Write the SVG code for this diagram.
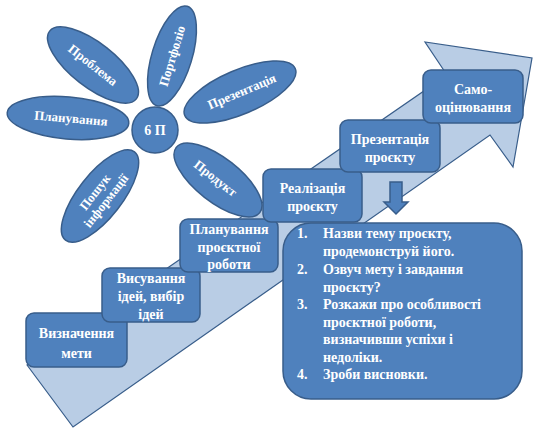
<svg xmlns="http://www.w3.org/2000/svg" width="541" height="437" viewBox="0 0 541 437">
<style>
.bg{fill:#ffffff}
.arrow{fill:#b9cde5;stroke:#385d8a;stroke-width:1.2}
.box{fill:#4f81bd;stroke:#385d8a;stroke-width:1.5}
.petal{fill:#4f81bd;stroke:#385d8a;stroke-width:1.5}
.t{font-family:"Liberation Serif","Times New Roman",serif;font-weight:bold;font-size:14px;fill:#ffffff;text-anchor:middle}
.pt{font-family:"Liberation Serif","Times New Roman",serif;font-weight:bold;font-size:13px;fill:#ffffff;text-anchor:middle}
.lt{font-family:"Liberation Serif","Times New Roman",serif;font-weight:bold;font-size:14px;fill:#ffffff}
</style>
<rect class="bg" width="541" height="437"/>
<g id="big-arrow">
<polygon class="arrow" points="27,365 447,75 425,42 532,58 513,167 490,135 73,427"/>
</g>
<g id="flower">
<g id="petal-problema" transform="translate(93,65) rotate(38)">
<ellipse class="petal" cx="0" cy="0" rx="55" ry="22"/>
<text class="pt" x="0" y="4.5">Проблема</text>
</g>
<g id="petal-portfolio" transform="translate(172,56) rotate(-73)">
<ellipse class="petal" cx="0" cy="0" rx="52" ry="20"/>
<text class="pt" x="0" y="4.5">Портфоліо</text>
</g>
<g id="petal-prezentatsiia" transform="translate(240,92) rotate(-23)">
<ellipse class="petal" cx="0" cy="0" rx="60" ry="22"/>
<text class="pt" x="2" y="4.5">Презентація</text>
</g>
<g id="petal-planuvannia" transform="translate(68,118) rotate(5)">
<ellipse class="petal" cx="0" cy="0" rx="61" ry="21"/>
<text class="pt" x="3" y="4.5">Планування</text>
</g>
<g id="petal-produkt" transform="translate(218,180) rotate(38)">
<ellipse class="petal" cx="0" cy="0" rx="53" ry="22"/>
<text class="pt" x="-3" y="4.5">Продукт</text>
</g>
<g id="petal-poshuk" transform="translate(100,196) rotate(-52)">
<ellipse class="petal" cx="0" cy="0" rx="56" ry="22"/>
<text class="pt" x="0" y="-2">Пошук</text>
<text class="pt" x="0" y="12">інформації</text>
</g>
<g id="center-6p">
<circle class="petal" cx="155" cy="130" r="23"/>
<text class="t" x="155" y="135">6 П</text>
</g>
</g>
<g id="step-1">
<rect class="box" x="26" y="313" width="101" height="54" rx="8"/>
<text class="t" x="76.5" y="338">Визначення</text>
<text class="t" x="76.5" y="358">мети</text>
</g>
<g id="step-2">
<rect class="box" x="102" y="268" width="98" height="54" rx="8"/>
<text class="t" x="151" y="283">Висування</text>
<text class="t" x="151" y="301">ідей, вибір</text>
<text class="t" x="151" y="319">ідей</text>
</g>
<g id="step-3">
<rect class="box" x="180" y="219" width="98" height="53" rx="8"/>
<text class="t" x="229" y="234">Планування</text>
<text class="t" x="229" y="252">проєктної</text>
<text class="t" x="229" y="269">роботи</text>
</g>
<g id="step-4">
<rect class="box" x="263" y="169" width="99" height="53" rx="8"/>
<text class="t" x="312.5" y="193">Реалізація</text>
<text class="t" x="312.5" y="211">проєкту</text>
</g>
<g id="step-5">
<rect class="box" x="340" y="120" width="100" height="52" rx="8"/>
<text class="t" x="390" y="144">Презентація</text>
<text class="t" x="390" y="162">проєкту</text>
</g>
<g id="step-6">
<rect class="box" x="423" y="70" width="100" height="53" rx="8"/>
<text class="t" x="473" y="94">Само-</text>
<text class="t" x="473" y="112">оцінювання</text>
</g>
<g id="connectors">
<polygon class="box" points="390,182 402,182 402,202 408,202 396,214 384,202 390,202"/>
</g>
<g id="questions">
<rect class="box" x="283" y="223" width="239" height="176" rx="28"/>
<text class="lt" x="297" y="238">1.</text>
<text class="lt" x="323" y="238">Назви тему проєкту,</text>
<text class="lt" x="323" y="256">продемонструй його.</text>
<text class="lt" x="297" y="274">2.</text>
<text class="lt" x="323" y="274">Озвуч мету і завдання</text>
<text class="lt" x="323" y="292">проєкту?</text>
<text class="lt" x="297" y="309">3.</text>
<text class="lt" x="323" y="309">Розкажи про особливості</text>
<text class="lt" x="323" y="327">проєктної роботи,</text>
<text class="lt" x="323" y="344">визначивши успіхи і</text>
<text class="lt" x="323" y="362">недоліки.</text>
<text class="lt" x="297" y="379">4.</text>
<text class="lt" x="323" y="379">Зроби висновки.</text>
</g>
</svg>
